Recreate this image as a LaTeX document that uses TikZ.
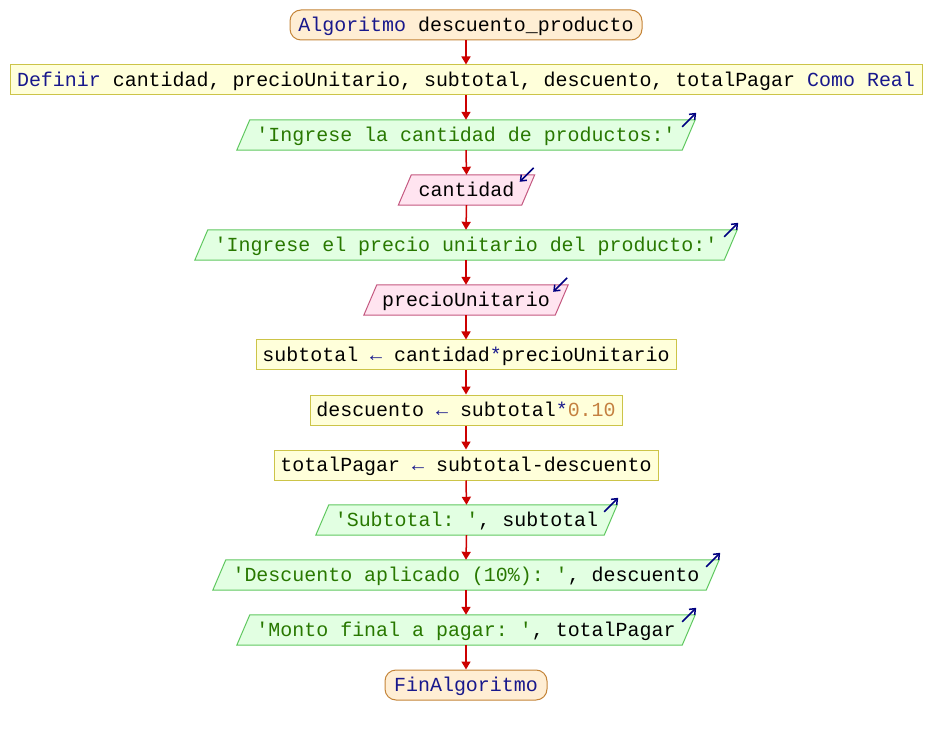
\documentclass[tikz,border=0pt]{standalone}
\usepackage{fontspec}
\setmonofont{Liberation Mono}
\usetikzlibrary{arrows.meta}
\definecolor{kw}{RGB}{24,24,140}
\definecolor{strc}{RGB}{40,120,0}
\definecolor{numc}{RGB}{196,128,64}
\definecolor{termfill}{RGB}{255,238,212}
\definecolor{termdraw}{RGB}{196,132,56}
\definecolor{asfill}{RGB}{255,255,218}
\definecolor{asdraw}{RGB}{204,196,72}
\definecolor{outfill}{RGB}{226,255,226}
\definecolor{outdraw}{RGB}{96,200,96}
\definecolor{infill}{RGB}{255,228,240}
\definecolor{indraw}{RGB}{196,88,128}
\definecolor{flowred}{RGB}{204,0,0}
\definecolor{ioblue}{RGB}{0,0,128}
\pgfdeclarelayer{bg}
\pgfsetlayers{bg,main}
\begin{document}
\begin{tikzpicture}[x=1pt,y=-1pt,
  font=\ttfamily\fontsize{19.95pt}{22pt}\selectfont,
  box/.style={inner sep=0pt, minimum height=30pt, text height=15pt, text depth=2pt},
  term/.style={box, draw=termdraw, fill=termfill, rounded corners=11pt, line width=1pt},
  assign/.style={box, draw=asdraw, fill=asfill, line width=1pt},
  para/.style={box},
  outshape/.style={draw=outdraw, fill=outfill, line width=1pt},
  inshape/.style={draw=indraw, fill=infill, line width=1pt},
  flow/.style={draw=flowred, line width=1.5pt, -{Triangle[length=8pt,width=9pt]}},
  io/.style={draw=ioblue, line width=1.5pt, -{Straight Barb[length=5pt,width=8pt]}}
]
\useasboundingbox (0,0) rectangle (932,735);

\node[term, minimum width=352pt] (start) at (466,25) {\textcolor{kw}{Algoritmo} descuento\_producto};
\node[assign, minimum width=912pt] (def) at (466,80) {\textcolor{kw}{Definir} cantidad, precioUnitario, subtotal, descuento, totalPagar \textcolor{kw}{Como Real}};
\node[para, minimum width=458pt] (o1) at (466,135) {\textcolor{strc}{'Ingrese la cantidad de productos:'}};
\node[para, minimum width=136pt] (i1) at (466.5,190) {cantidad};
\node[para, minimum width=542pt] (o2) at (466,245) {\textcolor{strc}{'Ingrese el precio unitario del producto:'}};
\node[para, minimum width=204pt] (i2) at (466,300) {precioUnitario};
\node[assign, minimum width=420pt] (a1) at (466,355) {subtotal \textcolor{kw}{←} cantidad\textcolor{kw}{*}precioUnitario};
\node[assign, minimum width=312pt] (a2) at (466,410) {descuento \textcolor{kw}{←} subtotal\textcolor{kw}{*}\textcolor{numc}{0.10}};
\node[assign, minimum width=384pt] (a3) at (466,465) {totalPagar \textcolor{kw}{←} subtotal-descuento};
\node[para, minimum width=301pt] (o3) at (466.5,520) {\textcolor{strc}{'Subtotal: '}, subtotal};
\node[para, minimum width=506pt] (o4) at (466,575) {\textcolor{strc}{'Descuento aplicado (10\%): '}, descuento};
\node[para, minimum width=458pt] (o5) at (466,630) {\textcolor{strc}{'Monto final a pagar: '}, totalPagar};
\node[term, minimum width=162pt] (fin) at (466,685) {\textcolor{kw}{FinAlgoritmo}};

\begin{pgfonlayer}{bg}
\foreach \n in {o1,o2,o3,o4,o5}
  \draw[outshape] (\n.south west) -- ([xshift=13pt]\n.north west) -- (\n.north east) -- ([xshift=-13pt]\n.south east) -- cycle;
\foreach \n in {i1,i2}
  \draw[inshape] (\n.south west) -- ([xshift=13pt]\n.north west) -- (\n.north east) -- ([xshift=-13pt]\n.south east) -- cycle;
\end{pgfonlayer}

\foreach \n in {o1,o2,o3,o4,o5}
  \draw[io] ([xshift=-13pt,yshift=-7pt]\n.north east) -- ([xshift=1pt,yshift=7pt]\n.north east);
\foreach \n in {i1,i2}
  \draw[io] ([xshift=-1pt,yshift=7pt]\n.north east) -- ([xshift=-15pt,yshift=-7pt]\n.north east);

\foreach \a/\b in {start/def,def/o1,o1/i1,i1/o2,o2/i2,i2/a1,a1/a2,a2/a3,a3/o3,o3/o4,o4/o5,o5/fin}
  \draw[flow] (\a.south) -- (\b.north);
\end{tikzpicture}
\end{document}
